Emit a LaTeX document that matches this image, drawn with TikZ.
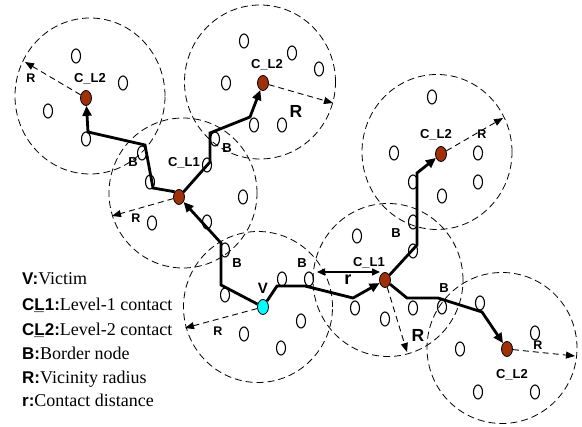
\documentclass[tikz,border=0pt]{standalone}
\usepackage{fontspec}
\setmainfont{Liberation Serif}
\setsansfont{Liberation Sans}
\usetikzlibrary{shapes.geometric,arrows.meta}
\definecolor{brownc}{RGB}{160,48,8}
\definecolor{vcyan}{RGB}{0,255,255}
\newcommand{\legsans}{\sffamily\bfseries\fontsize{17}{20}\selectfont}
\begin{document}
\begin{tikzpicture}[x=1pt,y=-1pt,
  vic/.style={draw, ellipse, line width=0.8pt, dash pattern=on 7pt off 4pt, inner sep=0pt},
  sn/.style={draw, ellipse, line width=1.1pt, minimum width=9pt, minimum height=14pt, inner sep=0pt},
  cn/.style={draw, ellipse, line width=0.8pt, minimum width=11pt, minimum height=15pt, inner sep=0pt, fill=brownc},
  vn/.style={cn, fill=vcyan},
  hop/.style={line width=2.8pt, -{Triangle[length=10pt,width=9pt]}},
  rad/.style={line width=0.9pt, dash pattern=on 6pt off 4pt, -{Triangle[length=9pt,width=7pt]}},
  lab/.style={anchor=base, inner sep=0pt, font=\sffamily\bfseries\fontsize{13}{15}\selectfont},
  blab/.style={anchor=base, inner sep=0pt, font=\sffamily\bfseries\fontsize{13}{15}\selectfont},
  rlab/.style={anchor=base, inner sep=0pt, font=\sffamily\bfseries\fontsize{12.5}{14}\selectfont},
  Rlab/.style={anchor=base, inner sep=0pt, font=\sffamily\bfseries\fontsize{17.5}{20}\selectfont},
  leg/.style={anchor=base west, inner sep=0pt, font=\fontsize{18}{21}\selectfont}
]
\useasboundingbox (0,0) rectangle (582,427);

% vicinity circles
\node[vic, minimum width=150pt, minimum height=156pt] (zTL) at (90,96) {};
\node[vic, minimum width=151pt, minimum height=154pt] (zTM) at (260,82) {};
\node[vic, minimum width=150pt, minimum height=155pt] (zTR) at (437,152) {};
\node[vic, minimum width=148pt, minimum height=150pt] (zML) at (183,193) {};
\node[vic, minimum width=149pt, minimum height=151pt] (zV) at (258,307) {};
\node[vic, minimum width=150pt, minimum height=153pt] (zMR) at (388,280) {};
\node[vic, minimum width=150pt, minimum height=151pt] (zBR) at (502,348) {};

% ordinary nodes
\node[sn] (n1) at (76,56) {};
\node[sn] (n2) at (123,83) {};
\node[sn] (n3) at (48,111) {};
\node[sn] (n4) at (86,139) {};
\node[sn] (n5) at (244,41) {};
\node[sn] (n6) at (292,53) {};
\node[sn] (n7) at (319,69) {};
\node[sn] (n8) at (226,83) {};
\node[sn] (n9) at (254,125) {};
\node[sn] (n10) at (282,125) {};
\node[sn] (n11) at (142,153) {};
\node[sn] (n12) at (150,182) {};
\node[sn] (n13) at (207,165) {};
\node[sn] (n14) at (215,139) {};
\node[sn] (n15) at (243,197) {};
\node[sn] (n16) at (207,222) {};
\node[sn] (n17) at (152,223) {};
\node[sn] (n18) at (225,250) {};
\node[sn] (n19) at (225,295) {};
\node[sn] (n20) at (282,279) {};
\node[sn] (n21) at (309,279) {};
\node[sn] (n22) at (301,321) {};
\node[sn] (n23) at (244,334) {};
\node[sn] (n24) at (281,348) {};
\node[sn] (n25) at (357,236) {};
\node[sn] (n26) at (355,308) {};
\node[sn] (n27) at (385,319) {};
\node[sn] (n28) at (413,308) {};
\node[sn] (n29) at (413,251) {};
\node[sn] (n30) at (413,222) {};
\node[sn] (n31) at (432,97) {};
\node[sn] (n32) at (394,153) {};
\node[sn] (n33) at (478,153) {};
\node[sn] (n34) at (478,182) {};
\node[sn] (n35) at (413,182) {};
\node[sn] (n36) at (442,196) {};
\node[sn] (n37) at (442,307) {};
\node[sn] (n38) at (480,303) {};
\node[sn] (n39) at (460,349) {};
\node[sn] (n40) at (535,333) {};
\node[sn] (n41) at (478,392) {};
\node[sn] (n42) at (535,392) {};

% contacts and victim
\node[cn] (cTL) at (86,98) {};
\node[cn] (cTM) at (263,83) {};
\node[cn] (cML) at (179,197) {};
\node[vn] (cV) at (263,307) {};
\node[cn] (cMR) at (385,280) {};
\node[cn] (cTR) at (441,154) {};
\node[cn] (cBR) at (507,349) {};

% bend points
\coordinate (pa1) at (221,285);
\coordinate (pa2) at (221,243);
\coordinate (pb1) at (153,188);
\coordinate (pb2) at (145,145);
\coordinate (pb3) at (88,132);
\coordinate (pc1) at (210,162);
\coordinate (pc2) at (210,133);
\coordinate (pc3) at (250,117);
\coordinate (pd1) at (277,286);
\coordinate (pd2) at (305,286);
\coordinate (pd3) at (353,298);
\coordinate (pe1) at (417,245);
\coordinate (pe2) at (417,173);
\coordinate (pf1) at (407,298);
\coordinate (pf2) at (438,298);
\coordinate (pf3) at (482,312);

% hops
\draw[hop] (cV) -- (pa1) -- (pa2) -- (cML);
\draw[hop] (cML.130) -- (pb1) -- (pb2) -- (pb3) -- (cTL);
\draw[hop] (cML) -- (pc1) -- (pc2) -- (pc3) -- (cTM);
\draw[hop] (cV) -- (pd1) -- (pd2) -- (pd3) -- (cMR);
\draw[hop] (cMR) -- (pe1) -- (pe2) -- (cTR);
\draw[hop] (cMR) -- (pf1) -- (pf2) -- (pf3) -- (cBR);

% radius arrows
\coordinate (rTL) at (25,62);
\coordinate (rTM) at (333,103);
\coordinate (rML) at (112,216);
\coordinate (rV) at (185,328);
\coordinate (rMR) at (407,352);
\coordinate (rTR) at (503,118);
\coordinate (rBR) at (575,356);
\draw[rad] (cTL) -- (rTL);
\draw[rad] (cTM) -- (rTM);
\draw[rad] (cML) -- (rML);
\draw[rad] (cV) -- (rV);
\draw[rad] (cMR) -- (rMR);
\draw[rad] (cTR) -- (rTR);
\draw[rad] (cBR) -- (rBR);

% contact distance
\coordinate (qr1) at (317,272);
\coordinate (qr2) at (380,272);
\draw[line width=1.4pt, {Triangle[length=8pt,width=7pt]}-{Triangle[length=8pt,width=7pt]}] (qr1) -- (qr2);

% labels
\node[lab] (tTL) at (90,83) {C\_L2};
\node[lab] (tTM) at (267,69) {C\_L2};
\node[lab] (tTR) at (436,139) {C\_L2};
\node[lab] (tBR) at (512,379) {C\_L2};
\node[lab] (tML) at (184,167) {C\_L1};
\node[lab] (tMR) at (369,267) {C\_L1};
\node[anchor=base, inner sep=0pt, font=\sffamily\bfseries\fontsize{15}{17}\selectfont] (tV) at (263,294) {V};
\node[blab] (b1) at (133,167) {B};
\node[blab] (b2) at (227,153) {B};
\node[blab] (b3) at (237,268) {B};
\node[blab] (b4) at (302,268) {B};
\node[blab] (b5) at (396,238) {B};
\node[blab] (b6) at (444,293) {B};
\node[rlab] (R1) at (31,83) {R};
\node[Rlab] (R2) at (296,118) {R};
\node[rlab] (R3) at (136,223) {R};
\node[rlab] (R4) at (218,336) {R};
\node[Rlab] (R5) at (418,342) {R};
\node[rlab] (R6) at (482,139) {R};
\node[rlab] (R7) at (538,350) {R};
\node[anchor=base, inner sep=0pt, font=\sffamily\bfseries\fontsize{18}{20}\selectfont] (tr) at (348,285) {r};

% legend
\node[leg] (l1) at (22,285) {{\legsans V:}Victim};
\node[leg] (l2) at (22,311) {{\legsans C\rlap{\_}L1:}Level-1 contact};
\node[leg] (l3) at (22,336) {{\legsans C\rlap{\_}L2:}Level-2 contact};
\node[leg] (l4) at (22,360) {{\legsans B:}Border node};
\node[leg] (l5) at (22,384) {{\legsans R:}Vicinity radius};
\node[leg] (l6) at (22,407) {{\legsans r:}Contact distance};
\end{tikzpicture}
\end{document}
